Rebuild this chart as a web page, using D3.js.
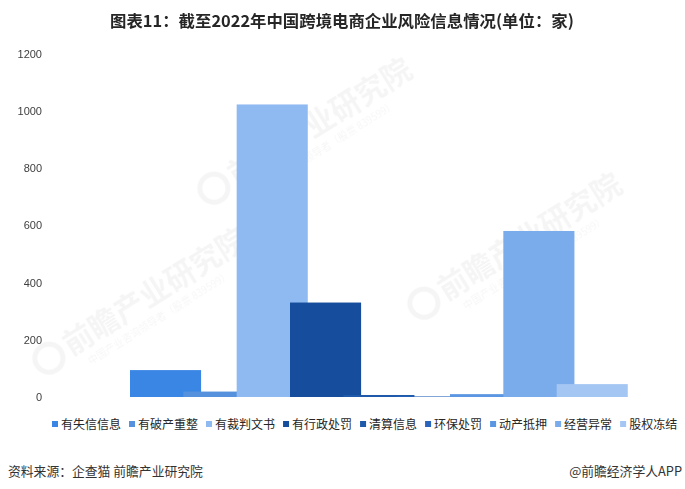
<!DOCTYPE html>
<html>
<head>
<meta charset="utf-8">
<script src="https://cdn.jsdelivr.net/npm/d3@7/dist/d3.min.js"></script>
<style>
  html, body { margin: 0; padding: 0; background: #fff; }
  svg { display: block; font-family: "Noto Sans CJK SC", "Noto Sans", sans-serif; }
</style>
</head>
<body>
<svg id="chart" width="685" height="489"></svg>
<script>
// Risk categories (one bar each) and the number of companies per category
const series = ["有失信信息", "有破产重整", "有裁判文书", "有行政处罚", "清算信息", "环保处罚", "动产抵押", "经营异常", "股权冻结"];
const values = [94, 19, 1022, 330, 7, 2, 10, 580, 45];
const colors = ["#3a86e5", "#5591dc", "#8fb9f1", "#164e9d", "#1f59aa", "#2a64bb", "#5a96e2", "#7aabeb", "#a4c6f3"];
const yTicks = [0, 200, 400, 600, 800, 1000, 1200];

const title = "图表11：截至2022年中国跨境电商企业风险信息情况(单位：家)";
const source = "资料来源：企查猫 前瞻产业研究院";
const credit = "@前瞻经济学人APP";

const svg = d3.select("#chart");

// faint brand watermarks behind the plot
const marks = [[275, 150], [485, 265], [110, 320]];
const wm = svg.append("g").attr("fill", "#000").attr("opacity", 0.04);
marks.forEach(([cx, cy]) => {
  const g = wm.append("g").attr("transform", `translate(${cx},${cy}) rotate(-32)`);
  g.append("circle").attr("cx", -72).attr("cy", 0).attr("r", 14)
    .attr("fill", "none").attr("stroke", "#000").attr("stroke-width", 5);
  g.append("text").attr("x", -52).attr("y", 10).attr("font-size", 30).attr("font-weight", 700)
    .text("前瞻产业研究院");
  g.append("text").attr("x", -40).attr("y", 28).attr("font-size", 10)
    .text("中国产业咨询领导者（股票 839599）");
});

// scales
const y = d3.scaleLinear().domain([0, 1200]).range([397, 53.5]);
const x = d3.scaleBand().domain(series).range([130, 610]).paddingInner(0).paddingOuter(0);
const barW = x.step() * 1.333;

// y axis labels only (no line, no gridlines)
const yAxis = d3.axisLeft(y).tickValues(yTicks).tickFormat(d3.format("d")).tickSize(0).tickPadding(0);
const ya = svg.append("g").attr("transform", "translate(42,0)").call(yAxis);
ya.select(".domain").remove();
ya.selectAll("text").attr("font-size", 11).attr("fill", "#404040")
  .attr("font-family", "\"Liberation Sans\", \"Noto Sans\", sans-serif");

// bars — later series overlap earlier ones
svg.append("g").selectAll("rect").data(series).join("rect")
  .attr("x", d => x(d))
  .attr("y", (d, i) => y(values[i]))
  .attr("width", barW)
  .attr("height", (d, i) => y(0) - y(values[i]))
  .attr("fill", (d, i) => colors[i]);

// title
svg.append("text").attr("x", 342).attr("y", 27).attr("text-anchor", "middle")
  .attr("font-size", 16.4).attr("font-weight", 700).attr("fill", "#262626").text(title);

// legend
const legend = svg.append("g").attr("font-size", 12).attr("fill", "#262626");
let lx = 52;
series.forEach((s, i) => {
  const item = legend.append("g").attr("transform", `translate(${lx},0)`);
  item.append("rect").attr("x", 0).attr("y", 421).attr("width", 6).attr("height", 6).attr("fill", colors[i]);
  const t = item.append("text").attr("x", 9).attr("y", 428.5).text(s);
  const w = t.node().getComputedTextLength();
  lx += 9 + w + 8;
});

// footer
svg.append("text").attr("x", 8).attr("y", 476).attr("font-size", 12.8).attr("fill", "#333").text(source);
svg.append("text").attr("x", 682).attr("y", 476).attr("text-anchor", "end")
  .attr("font-size", 12.8).attr("fill", "#333").text(credit);
</script>
</body>
</html>
